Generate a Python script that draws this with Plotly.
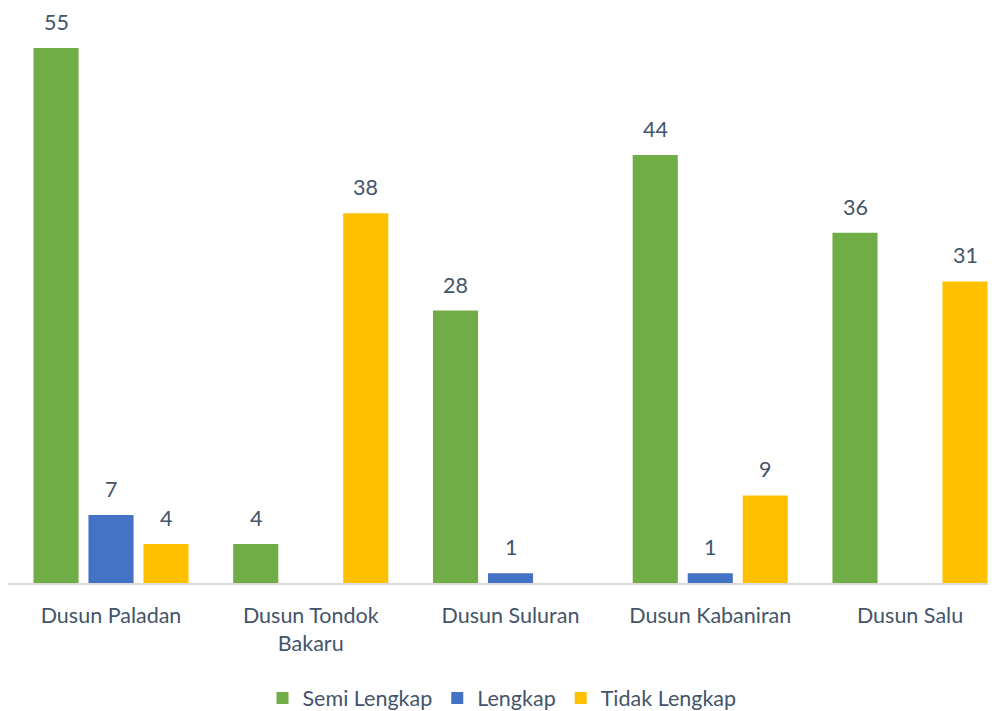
import plotly.graph_objects as go

# Data
categories = ["Dusun Paladan", "Dusun Tondok<br>Bakaru", "Dusun Suluran",
              "Dusun Kabaniran", "Dusun Salu"]
series_names = ["Semi Lengkap", "Lengkap", "Tidak Lengkap"]
semi_lengkap = [55, 4, 28, 44, 36]
lengkap = [7, None, 1, 1, None]
tidak_lengkap = [4, 38, None, 9, 31]

COLORS = {
    "semi": "#70AD47",
    "lengkap": "#4472C4",
    "tidak": "#FFC000",
    "text": "#44546A",
}

FONT = "Lato, 'Open Sans', sans-serif"
FS = 21.5

fig = go.Figure()

series = [
    (series_names[0], semi_lengkap, COLORS["semi"], -55),
    (series_names[1], lengkap, COLORS["lengkap"], 0),
    (series_names[2], tidak_lengkap, COLORS["tidak"], 55),
]

for name, vals, color, shift in series:
    fig.add_trace(go.Bar(
        x=categories,
        y=vals,
        name=name,
        marker=dict(color=color, line=dict(width=0)),
    ))
    # value labels, a little above each bar
    for cat, v in zip(categories, vals):
        if v is None:
            continue
        fig.add_annotation(
            x=cat, y=v, text=str(v), showarrow=False,
            xshift=shift, yshift=26, yanchor="middle",
            font=dict(size=FS, color=COLORS["text"], family=FONT),
        )

fig.update_layout(
    barmode="group",
    bargap=0.174,
    bargroupgap=0.18,
    width=988,
    height=703,
    paper_bgcolor="white",
    plot_bgcolor="white",
    margin=dict(l=0, r=0, t=0, b=128, autoexpand=False),
    font=dict(family=FONT, size=FS, color=COLORS["text"]),
    xaxis=dict(
        range=[-0.5157, 4.4305],
        automargin=False,
        showline=True,
        linecolor="#D9D9D9",
        linewidth=1.5,
        ticks="",
        showgrid=False,
        tickfont=dict(size=FS, color=COLORS["text"]),
        ticklabelstandoff=12,
    ),
    yaxis=dict(
        range=[0, 59.1],
        visible=False,
        showgrid=False,
    ),
    legend=dict(
        orientation="h",
        x=0.5,
        xanchor="center",
        yref="container",
        y=0.0185,
        yanchor="middle",
        font=dict(size=FS, color=COLORS["text"]),
        itemwidth=30,
        traceorder="normal",
    ),
    showlegend=True,
)

fig.write_html("out.html")
